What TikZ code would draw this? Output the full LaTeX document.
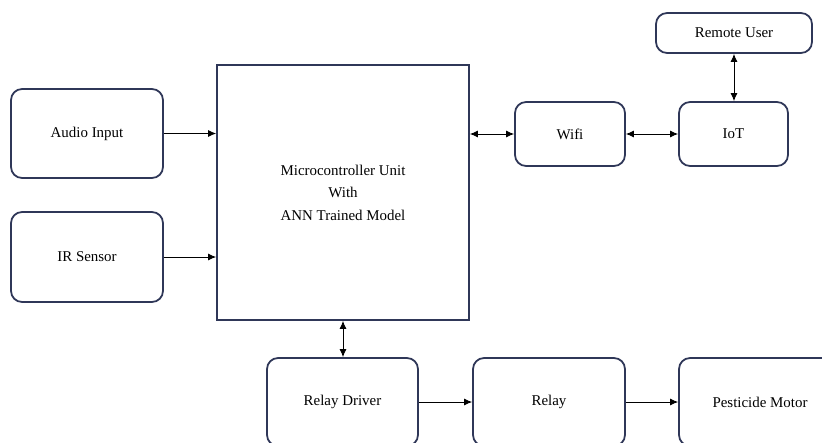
\documentclass[tikz,border=0pt]{standalone}
\usepackage{fontspec}
\setmainfont{Liberation Serif}
\usetikzlibrary{arrows.meta}
\definecolor{boxline}{RGB}{47,55,88}
\begin{document}
\begin{tikzpicture}[x=0.02cm,y=-0.02cm,
    block/.style={draw=boxline,line width=1pt,rounded corners=0.22cm,
      inner sep=0pt,align=center,font=\fontsize{8.5}{12.8}\selectfont},
    link/.style={line width=0.5pt,-{Latex[length=1.6mm,width=1.4mm]}},
    both/.style={line width=0.5pt,{Latex[length=1.6mm,width=1.4mm]}-{Latex[length=1.6mm,width=1.4mm]}}]
    \useasboundingbox (0,0) rectangle (822,443);
    \clip (0,0) rectangle (822,443);
    % inputs
    \node[block,minimum width=3.04cm,minimum height=1.78cm] (audio) at (87,133.5) {Audio Input};
    \node[block,minimum width=3.04cm,minimum height=1.8cm] (ir) at (87,257) {IR Sensor};
    % controller
    \node[block,rounded corners=0pt,minimum width=5.04cm,minimum height=5.1cm] (mcu) at (343,192.5)
      {Microcontroller Unit\\With\\ANN Trained Model};
    % network side
    \node[block,minimum width=2.2cm,minimum height=1.28cm] (wifi) at (570,134) {Wifi};
    \node[block,minimum width=2.18cm,minimum height=1.28cm] (iot) at (733.5,134) {IoT};
    \node[block,minimum width=3.12cm,minimum height=0.8cm] (remote) at (734,33) {Remote User};
    % output chain
    \node[block,minimum width=3.02cm,minimum height=1.76cm] (driver) at (342.5,402) {Relay Driver};
    \node[block,minimum width=3.04cm,minimum height=1.76cm] (relay) at (549,402) {Relay};
    \node[block,minimum width=3.24cm,minimum height=1.76cm] (motor) at (760,402) {Pesticide Motor};
    % connectors
    \draw[link] (audio.east) -- (audio.east -| mcu.west);
    \draw[link] (ir.east) -- (ir.east -| mcu.west);
    \draw[both] (wifi.west -| mcu.east) -- (wifi.west);
    \draw[both] (wifi) -- (iot);
    \draw[both] (remote.south) -- (remote.south |- iot.north);
    \draw[both] (mcu.south) -- (mcu.south |- driver.north);
    \draw[link] (driver) -- (relay);
    \draw[link] (relay) -- (motor);
\end{tikzpicture}
\end{document}
